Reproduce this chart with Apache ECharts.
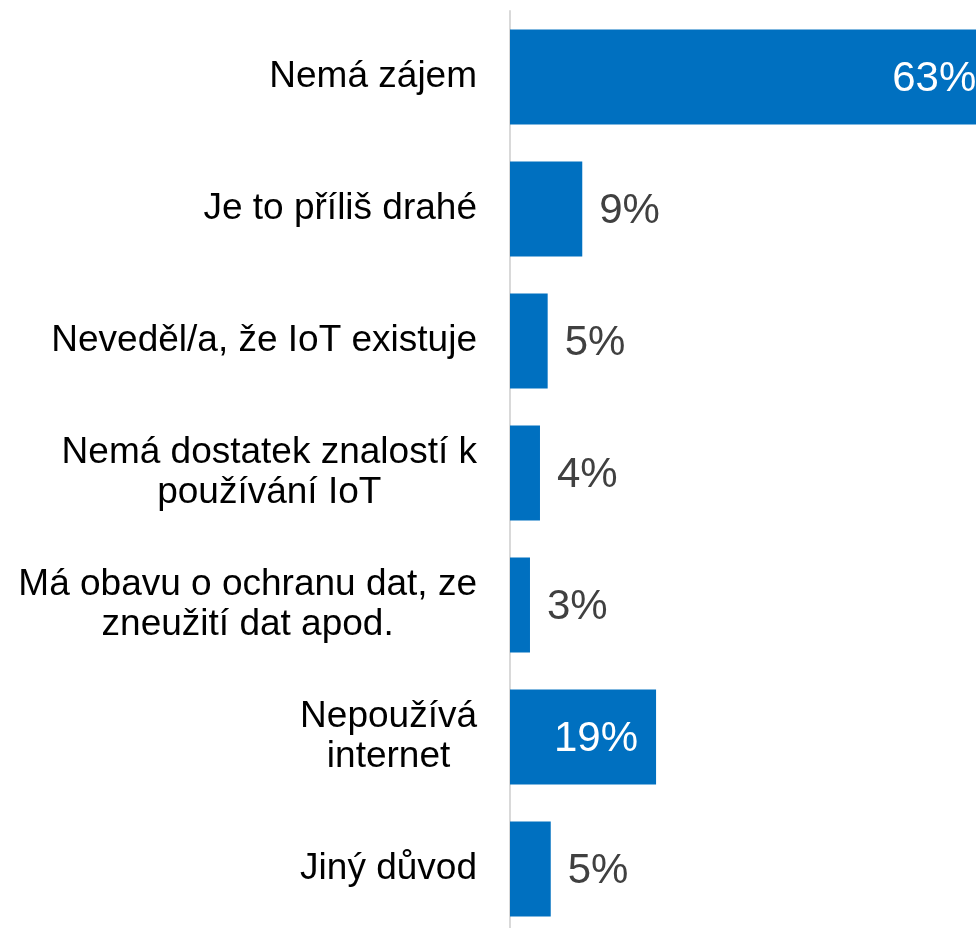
<!DOCTYPE html>
<html lang="cs">
<head>
    <meta charset="UTF-8">
    <title>Důvody nevyužívání IoT</title>
    <script src="https://cdn.jsdelivr.net/npm/echarts@6/dist/echarts.min.js"></script>
</head>
<style type="text/css">
    body{
        margin:0;
    }
    .iot-chart{
        width: 976px;
        height: 928px;
    }
</style>
<body>
    <div class="iot-chart"></div>
</body>
<script type="text/javascript">
var categories = [
    'Nemá zájem',
    'Je to příliš drahé',
    'Neveděl/a, že IoT existuje',
    'Nemá dostatek znalostí k\npoužívání IoT',
    'Má obavu o ochranu dat, ze\nzneužití dat apod.',
    'Nepoužívá\ninternet',
    'Jiný důvod'
];
// podíl v %, odečteno z délky pruhů
var values = [63.0, 9.4, 4.9, 3.9, 2.6, 19.0, 5.3];
// popisky uvnitř pruhu (bílé)
var insideIdx = [0, 5];

var blue = '#0070C0';

var seriesData = values.map(function(v, i) {
    var item = { value: v };
    if (insideIdx.indexOf(i) >= 0) {
        item.label = { position: 'insideRight', color: '#ffffff', distance: 18 };
    }
    return item;
});

var option = {
    animation: false,
    grid: {
        left: 510,
        right: -26,      // sahá za pravý okraj, pruh 63 % je oříznutý
        top: 11,
        bottom: -7,
        outerBoundsMode: 'none',
        containLabel: false
    },
    xAxis: {
        type: 'value',
        min: 0,
        max: 64,
        show: false
    },
    yAxis: {
        type: 'category',
        inverse: true,
        data: categories,
        axisTick: { show: false },
        axisLine: { lineStyle: { color: '#D9D9D9', width: 2 } },
        axisLabel: {
            margin: 33,
            align: 'right',
            formatter: function(val) {
                return val.split('\n').map(function(s) {
                    return '{c|' + s + '}';
                }).join('\n');
            },
            rich: {
                c: {
                    align: 'center',
                    fontFamily: '"Liberation Sans", Arial, sans-serif',
                    fontSize: 37,
                    lineHeight: 40,
                    color: '#000000'
                }
            }
        }
    },
    series: [{
        type: 'bar',
        data: seriesData,
        barWidth: 95,
        itemStyle: { color: blue },
        label: {
            show: true,
            position: 'right',
            distance: 17,
            offset: [0, 2],
            color: '#404040',
            fontFamily: '"Liberation Sans", Arial, sans-serif',
            fontSize: 42,
            formatter: function(p) {
                return Math.round(p.value) + '%';
            }
        }
    }]
};

var myChart = echarts.init(document.querySelector('.iot-chart'));
myChart.setOption(option);
</script>
</html>
